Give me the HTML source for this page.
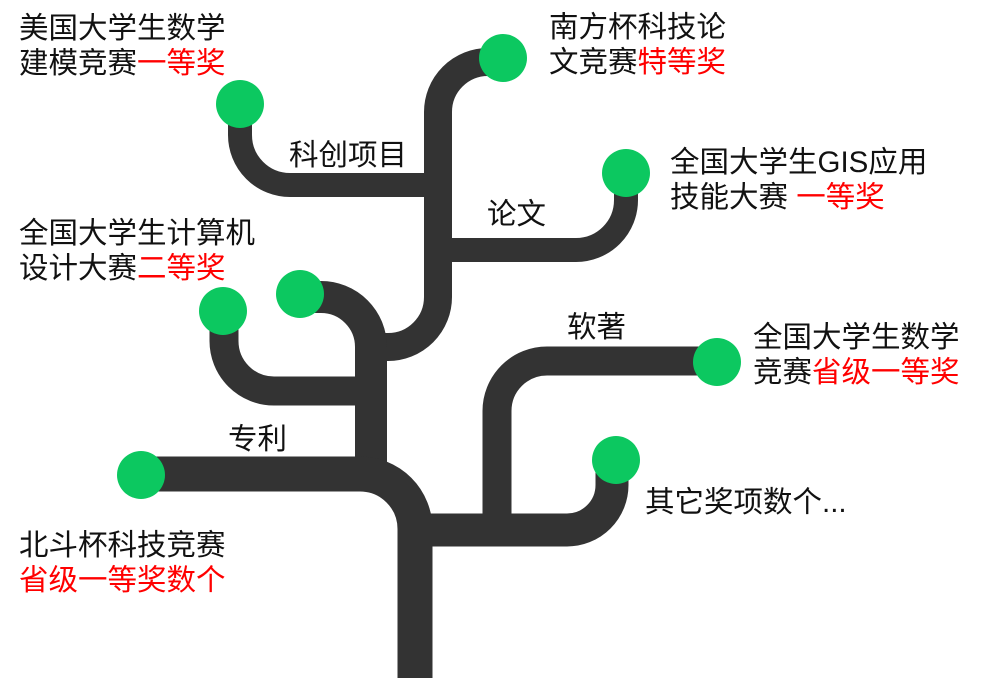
<!DOCTYPE html>
<html><head><meta charset="utf-8"><style>
html,body{margin:0;padding:0;background:#fff;}
#c{position:relative;width:983px;height:678px;overflow:hidden;}
.t{position:absolute;font-family:"Liberation Sans","Noto Sans CJK SC",sans-serif;font-size:29.5px;line-height:35px;color:#111;white-space:nowrap;}
.r{color:#ff0000;}
svg{position:absolute;left:0;top:0;}
</style></head><body><div id="c">
<svg width="983" height="678" viewBox="0 0 983 678">
<g fill="none" stroke="#333333" stroke-linecap="butt">
<path d="M503 62 H488 A50 50 0 0 0 438 112 V297 A50 50 0 0 1 388 347 H371" stroke-width="28"/>
<path d="M240 104 V135 A50 50 0 0 0 290 185 H438" stroke-width="24"/>
<path d="M626 173 V200 A50 50 0 0 1 576 250 H438" stroke-width="24"/>
<path d="M300 297 H321 A50 50 0 0 1 371 347 V480" stroke-width="32"/>
<path d="M224 311 V341 A50 50 0 0 0 274 391 H371" stroke-width="29"/>
<path d="M141 474 H360 A55 55 0 0 1 415 529 V678" stroke-width="35"/>
<path d="M415 530 H567 A45 45 0 0 0 612 485 V460" stroke-width="33"/>
<path d="M497 530 V411 A50 50 0 0 1 547 361 H717" stroke-width="29"/>
</g>
<g fill="#0cc860">
<circle cx="240" cy="104" r="24"/>
<circle cx="503" cy="58" r="24"/>
<circle cx="626" cy="173" r="24"/>
<circle cx="300" cy="294" r="24"/>
<circle cx="223" cy="311" r="24"/>
<circle cx="717" cy="362" r="24"/>
<circle cx="616" cy="460" r="24"/>
<circle cx="141" cy="475" r="24"/>
</g>
</svg>
<div class="t" style="left:19px;top:11px;">美国大学生数学<br>建模竞赛<span class="r">一等奖</span></div>
<div class="t" style="left:549px;top:10px;">南方杯科技论<br>文竞赛<span class="r">特等奖</span></div>
<div class="t" style="left:289px;top:138px;">科创项目</div>
<div class="t" style="left:487px;top:197px;">论文</div>
<div class="t" style="left:670px;top:145px;">全国大学生GIS应用<br>技能大赛 <span class="r">一等奖</span></div>
<div class="t" style="left:19px;top:216px;">全国大学生计算机<br>设计大赛<span class="r">二等奖</span></div>
<div class="t" style="left:567px;top:310px;">软著</div>
<div class="t" style="left:753px;top:320px;">全国大学生数学<br>竞赛<span class="r">省级一等奖</span></div>
<div class="t" style="left:228px;top:422px;">专利</div>
<div class="t" style="left:645px;top:485px;">其它奖项数个...</div>
<div class="t" style="left:19px;top:528px;">北斗杯科技竞赛<br><span class="r">省级一等奖数个</span></div>
</div></body></html>
